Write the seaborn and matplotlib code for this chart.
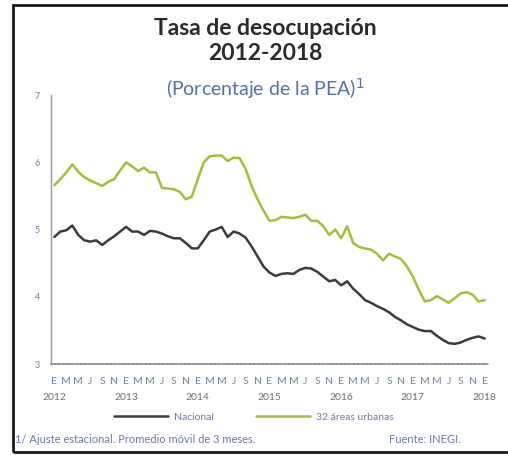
import numpy as np
import pandas as pd
import matplotlib
matplotlib.use("Agg")
import matplotlib.pyplot as plt
import seaborn as sns
from matplotlib.patches import Rectangle

# ---- data (monthly, Jan 2012 .. Jan 2018) ----
nacional = [4.89, 4.97, 4.99, 5.06, 4.92, 4.84, 4.82, 4.84, 4.77, 4.84, 4.90, 4.97,
            5.04, 4.97, 4.97, 4.92, 4.98, 4.97, 4.94, 4.90, 4.87, 4.87, 4.80, 4.72,
            4.72, 4.84, 4.97, 5.00, 5.04, 4.89, 4.97, 4.94, 4.88, 4.75, 4.60, 4.45,
            4.36, 4.31, 4.34, 4.35, 4.34, 4.40, 4.43, 4.42, 4.37, 4.30, 4.23, 4.25,
            4.17, 4.23, 4.12, 4.04, 3.95, 3.91, 3.86, 3.82, 3.77, 3.70, 3.65, 3.59,
            3.55, 3.51, 3.49, 3.49, 3.42, 3.36, 3.31, 3.30, 3.32, 3.36, 3.39, 3.41,
            3.38]
urbanas = [5.66, 5.75, 5.85, 5.97, 5.86, 5.78, 5.73, 5.69, 5.65, 5.71, 5.75, 5.88,
           6.00, 5.94, 5.87, 5.92, 5.85, 5.85, 5.62, 5.61, 5.60, 5.56, 5.45, 5.49,
           5.75, 6.00, 6.09, 6.10, 6.10, 6.02, 6.07, 6.06, 5.90, 5.65, 5.45, 5.28,
           5.13, 5.14, 5.19, 5.18, 5.17, 5.19, 5.22, 5.13, 5.13, 5.05, 4.92, 5.00,
           4.87, 5.05, 4.80, 4.74, 4.72, 4.70, 4.64, 4.54, 4.64, 4.60, 4.56, 4.45,
           4.30, 4.10, 3.93, 3.95, 4.01, 3.96, 3.91, 3.98, 4.05, 4.07, 4.03, 3.93,
           3.95]
series_names = ["Nacional", "32 áreas urbanas"]
month_letters = ["E", "M", "M", "J", "S", "N"]
years = ["2012", "2013", "2014", "2015", "2016", "2017", "2018"]
y_ticks = [3, 4, 5, 6, 7]

months = np.arange(len(nacional))
df = pd.DataFrame({
    "mes": np.concatenate([months, months]),
    "valor": nacional + urbanas,
    "serie": [series_names[0]] * len(nacional) + [series_names[1]] * len(urbanas),
})

sns.set_style("white")
plt.rcParams["font.family"] = ["Lato", "DejaVu Sans"]

fig = plt.figure(figsize=(5.08, 4.55), dpi=100)
ax = fig.add_axes([0.100, 0.200, 0.861, 0.591])

palette = {series_names[0]: "#3b3d38", series_names[1]: "#a3bf3a"}
sns.lineplot(data=df, x="mes", y="valor", hue="serie", palette=palette,
             linewidth=1.8, ax=ax, legend=True)

ax.set_xlim(-0.6, 72.6)
ax.set_ylim(3, 7)
ax.set_yticks(y_ticks)
ax.set_yticklabels([str(t) for t in y_ticks], color="#6b7fb8", fontsize=6.5)
xt = np.arange(0, 73, 2)
ax.set_xticks(xt)
ax.set_xticklabels([month_letters[(i // 2) % 6] for i in xt], color="#6b7fb8", fontsize=7.5)
ax.tick_params(axis="both", length=0, pad=8)
ax.tick_params(axis="x", pad=9)
ax.set_xlabel("")
ax.set_ylabel("")
for s in ["top", "right"]:
    ax.spines[s].set_visible(False)
ax.spines["left"].set_color("#8a97c0")
ax.spines["left"].set_linewidth(1.0)
ax.spines["bottom"].set_color("#8a8f9a")
ax.spines["bottom"].set_linewidth(1.2)
ax.spines["bottom"].set_linestyle((0, (2, 0.6)))

for i, yr in enumerate(years):
    ax.text(i * 12, -0.125, yr, transform=ax.get_xaxis_transform(),
            ha="center", va="center", fontsize=7.5, color="#6e6e6e")

sns.move_legend(ax, "center", bbox_to_anchor=(0.5, 0.083), bbox_transform=fig.transFigure,
                ncol=2, frameon=False, title=None, fontsize=7.5, handlelength=5.2,
                columnspacing=4, handletextpad=0.6)
for t in ax.get_legend().get_texts():
    t.set_color("#6d7aa8")

fig.text(0.522, 0.937, "Tasa de desocupación", ha="center", va="center",
         fontsize=16.5, fontweight="bold", color="#2b2b2b")
fig.text(0.522, 0.882, "2012-2018", ha="center", va="center",
         fontsize=16.5, fontweight="bold", color="#2b2b2b")
fig.text(0.522, 0.806, "(Porcentaje de la PEA)$^{1}$", ha="center", va="center",
         fontsize=14, color="#566fab")

fig.text(0.030, 0.033, "1/ Ajuste estacional. Promedio móvil de 3 meses.", ha="left",
         va="center", fontsize=8, color="#6d7aa8")
fig.text(0.765, 0.033, "Fuente: INEGI.", ha="left", va="center", fontsize=8,
         color="#6d7aa8")

fig.patches.append(Rectangle((0.025, 0.006), 0.985, 0.982, transform=fig.transFigure,
                             fill=False, edgecolor="#1a1a1a", linewidth=2.0))

fig.savefig("out.png", dpi=100)
